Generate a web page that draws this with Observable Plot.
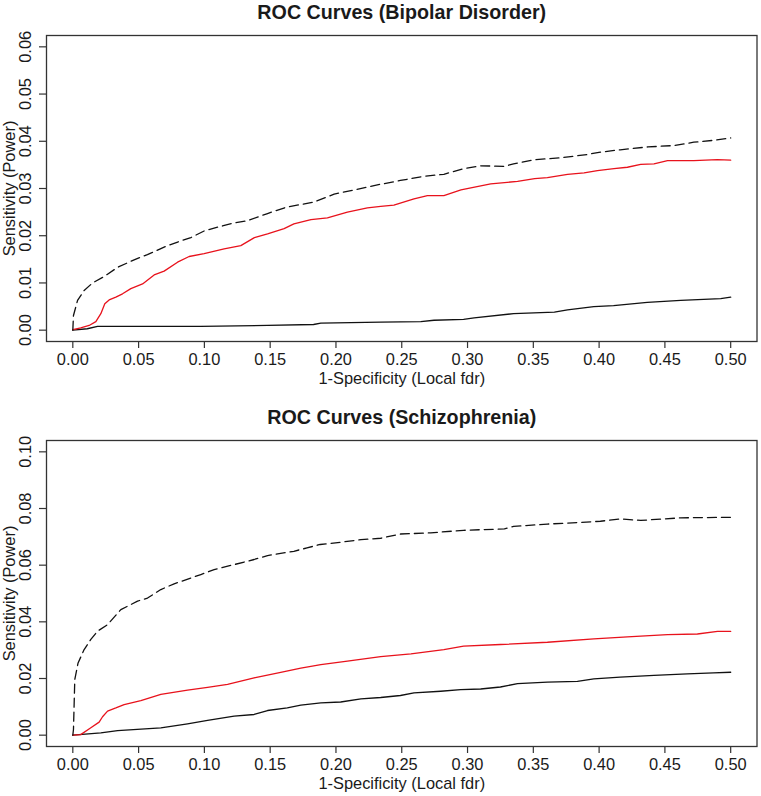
<!DOCTYPE html>
<html>
<head>
<meta charset="utf-8">
<script src="https://cdn.jsdelivr.net/npm/d3@7"></script>
<script src="https://cdn.jsdelivr.net/npm/@observablehq/plot@0.6"></script>
<style>
  html, body { margin: 0; padding: 0; background: #fff; }
  #chart svg { display: block; }
</style>
</head>
<body>
<div id="chart"></div>
<script>
// ---------- Data ----------
const xTicks = [0, 0.05, 0.10, 0.15, 0.20, 0.25, 0.30, 0.35, 0.40, 0.45, 0.50];
const bipolarYTicks = [0, 0.01, 0.02, 0.03, 0.04, 0.05, 0.06];
const schizoYTicks = [0, 0.02, 0.04, 0.06, 0.08, 0.10];

const bipolarTitle = "ROC Curves (Bipolar Disorder)";
const schizoTitle = "ROC Curves (Schizophrenia)";
const xLabel = "1-Specificity (Local fdr)";
const yLabel = "Sensitivity (Power)";

// Bipolar disorder: dashed black curve
const bipolarDashed = [
  [0, 0], [0.0005, 0.0031], [0.0036, 0.0063], [0.0086, 0.0084], [0.015, 0.0100],
  [0.024, 0.0114], [0.034, 0.0133], [0.0466, 0.0149], [0.0567, 0.0160], [0.072, 0.0179],
  [0.082, 0.0189], [0.0897, 0.0196], [0.0998, 0.0210], [0.110, 0.0218], [0.1226, 0.0227],
  [0.133, 0.0232], [0.148, 0.0247], [0.163, 0.0261], [0.183, 0.0271], [0.1986, 0.0288],
  [0.2138, 0.0297], [0.234, 0.0309], [0.249, 0.0317], [0.267, 0.0326], [0.282, 0.0330],
  [0.297, 0.0342], [0.310, 0.0348], [0.328, 0.0347], [0.335, 0.0352], [0.351, 0.0361],
  [0.371, 0.0365], [0.391, 0.0372], [0.401, 0.0377], [0.416, 0.0382], [0.437, 0.0388],
  [0.457, 0.0391], [0.472, 0.0398], [0.487, 0.0402], [0.50, 0.0407]
];
// Bipolar disorder: red curve
const bipolarRed = [
  [0, 0.0001], [0.006, 0.0005], [0.0124, 0.0010], [0.0175, 0.0018], [0.0213, 0.0035],
  [0.0243, 0.0056], [0.0276, 0.0064], [0.0327, 0.0070], [0.0378, 0.0077], [0.0441, 0.0088],
  [0.053, 0.0098], [0.0618, 0.0117], [0.0694, 0.0125], [0.0796, 0.0144], [0.0884, 0.0156],
  [0.0998, 0.0162], [0.115, 0.0172], [0.1277, 0.0179], [0.138, 0.0196], [0.148, 0.0204],
  [0.1606, 0.0215], [0.168, 0.0225], [0.181, 0.0234], [0.1935, 0.0238], [0.2087, 0.0250],
  [0.2239, 0.0259], [0.234, 0.0262], [0.244, 0.0265], [0.2593, 0.0278], [0.2695, 0.0285],
  [0.282, 0.0285], [0.295, 0.0297], [0.3176, 0.0310], [0.338, 0.0315], [0.351, 0.0321],
  [0.3607, 0.0323], [0.376, 0.0330], [0.3886, 0.0333], [0.3987, 0.0338], [0.4113, 0.0342],
  [0.4215, 0.0345], [0.4316, 0.0351], [0.4417, 0.0352], [0.452, 0.0359], [0.472, 0.0359],
  [0.4899, 0.0361], [0.50, 0.0360]
];
// Bipolar disorder: solid black curve
const bipolarBlack = [
  [0, 0], [0.011, 0.0003], [0.0188, 0.0008], [0.0466, 0.0008], [0.097, 0.0008],
  [0.148, 0.0010], [0.183, 0.0012], [0.1885, 0.0015], [0.234, 0.0017], [0.2645, 0.0018],
  [0.2745, 0.0021], [0.297, 0.0023], [0.305, 0.0026], [0.335, 0.0035], [0.366, 0.0038],
  [0.376, 0.0043], [0.396, 0.0050], [0.411, 0.0052], [0.4366, 0.0059], [0.462, 0.0063],
  [0.4924, 0.0067], [0.50, 0.0070]
];

// Schizophrenia: dashed black curve
const schizoDashed = [
  [0, 0], [0.0005, 0.0020], [0.0015, 0.0196], [0.004, 0.0255], [0.0086, 0.0302],
  [0.0137, 0.0338], [0.0188, 0.0367], [0.0264, 0.0390], [0.0365, 0.0443], [0.0492, 0.0473],
  [0.0568, 0.0484], [0.0669, 0.0514], [0.077, 0.0534], [0.0973, 0.0567], [0.1074, 0.0584],
  [0.1226, 0.0602], [0.1378, 0.0620], [0.148, 0.0634], [0.168, 0.0649], [0.178, 0.0661],
  [0.188, 0.0673], [0.2036, 0.0681], [0.219, 0.0690], [0.234, 0.0695], [0.249, 0.0710],
  [0.272, 0.0714], [0.297, 0.0723], [0.328, 0.0728], [0.335, 0.0737], [0.3607, 0.0745],
  [0.386, 0.0751], [0.401, 0.0755], [0.416, 0.0763], [0.4316, 0.0758], [0.462, 0.0767],
  [0.50, 0.0769]
];
// Schizophrenia: red curve
const schizoRed = [
  [0, 0], [0.006, 0.0002], [0.0137, 0.0026], [0.020, 0.0046], [0.0226, 0.0065],
  [0.0264, 0.0085], [0.0327, 0.0096], [0.039, 0.0108], [0.0517, 0.0122], [0.0669, 0.0144],
  [0.0872, 0.0159], [0.1024, 0.0169], [0.1176, 0.0179], [0.1378, 0.0202], [0.158, 0.0222],
  [0.1733, 0.0237], [0.1885, 0.0249], [0.2087, 0.0261], [0.234, 0.0277], [0.257, 0.0287],
  [0.282, 0.0302], [0.297, 0.0314], [0.325, 0.0320], [0.3607, 0.0328], [0.396, 0.0340],
  [0.4215, 0.0347], [0.452, 0.0355], [0.4747, 0.0357], [0.49, 0.0366], [0.50, 0.0366]
];
// Schizophrenia: solid black curve
const schizoBlack = [
  [0, 0], [0.0213, 0.0008], [0.034, 0.0016], [0.0669, 0.0026], [0.0872, 0.0040],
  [0.1024, 0.0052], [0.1226, 0.0067], [0.1378, 0.0073], [0.148, 0.0087], [0.163, 0.0096],
  [0.1733, 0.0106], [0.1885, 0.0114], [0.2036, 0.0117], [0.219, 0.0128], [0.234, 0.0133],
  [0.249, 0.0140], [0.2593, 0.0149], [0.2796, 0.0155], [0.2948, 0.0161], [0.310, 0.0163],
  [0.325, 0.0170], [0.338, 0.0182], [0.3607, 0.0187], [0.3835, 0.0190], [0.396, 0.0199],
  [0.416, 0.0205], [0.4417, 0.0211], [0.467, 0.0216], [0.487, 0.0220], [0.50, 0.0222]
];

// ---------- Drawing ----------
const FONT = "'Liberation Sans', Arial, Helvetica, sans-serif";
const INK = "#1a1a1a";

function panel({title, dashed, red, black, yMax, yTicks, height, marginTop, marginBottom}) {
  const pad = yMax * 0.04;
  return Plot.plot({
    width: 761,
    height,
    marginLeft: 46,
    marginRight: 4.5,
    marginTop,
    marginBottom,
    style: {fontFamily: FONT, fontSize: "16.4px", color: INK, background: "#fff", overflow: "visible"},
    x: {domain: [-0.02, 0.52]},
    y: {domain: [-pad, yMax + pad]},
    marks: [
      Plot.axisX({
        ticks: xTicks, tickFormat: d3.format(".2f"), tickSize: 7, tickPadding: 5,
        stroke: "#333", strokeWidth: 1.2,
        label: xLabel, labelAnchor: "center", labelOffset: 42, labelArrow: "none"
      }),
      Plot.axisY({
        ticks: yTicks, tickFormat: d3.format(".2f"), tickSize: 7, tickPadding: 9, tickRotate: -90,
        stroke: "#333", strokeWidth: 1.2,
        label: yLabel, labelAnchor: "center", labelOffset: 43, labelArrow: "none"
      }),
      Plot.line(black, {x: d => d[0], y: d => d[1], stroke: "#111", strokeWidth: 1.3}),
      Plot.line(red, {x: d => d[0], y: d => d[1], stroke: "#e8121c", strokeWidth: 1.3}),
      Plot.line(dashed, {x: d => d[0], y: d => d[1], stroke: "#111", strokeWidth: 1.3, strokeDasharray: "9,5"}),
      Plot.frame({stroke: "#333", strokeWidth: 1.3}),
      Plot.text([title], {
        frameAnchor: "top", lineAnchor: "bottom", dy: -16.7,
        fontWeight: "bold", fontSize: 19.7, fill: INK
      })
    ]
  });
}

const chart = document.getElementById("chart");
chart.append(panel({
  title: bipolarTitle, dashed: bipolarDashed, red: bipolarRed, black: bipolarBlack,
  yMax: 0.06, yTicks: bipolarYTicks, height: 400, marginTop: 35, marginBottom: 59
}));
chart.append(panel({
  title: schizoTitle, dashed: schizoDashed, red: schizoRed, black: schizoBlack,
  yMax: 0.10, yTicks: schizoYTicks, height: 396, marginTop: 40, marginBottom: 50
}));
</script>
</body>
</html>
